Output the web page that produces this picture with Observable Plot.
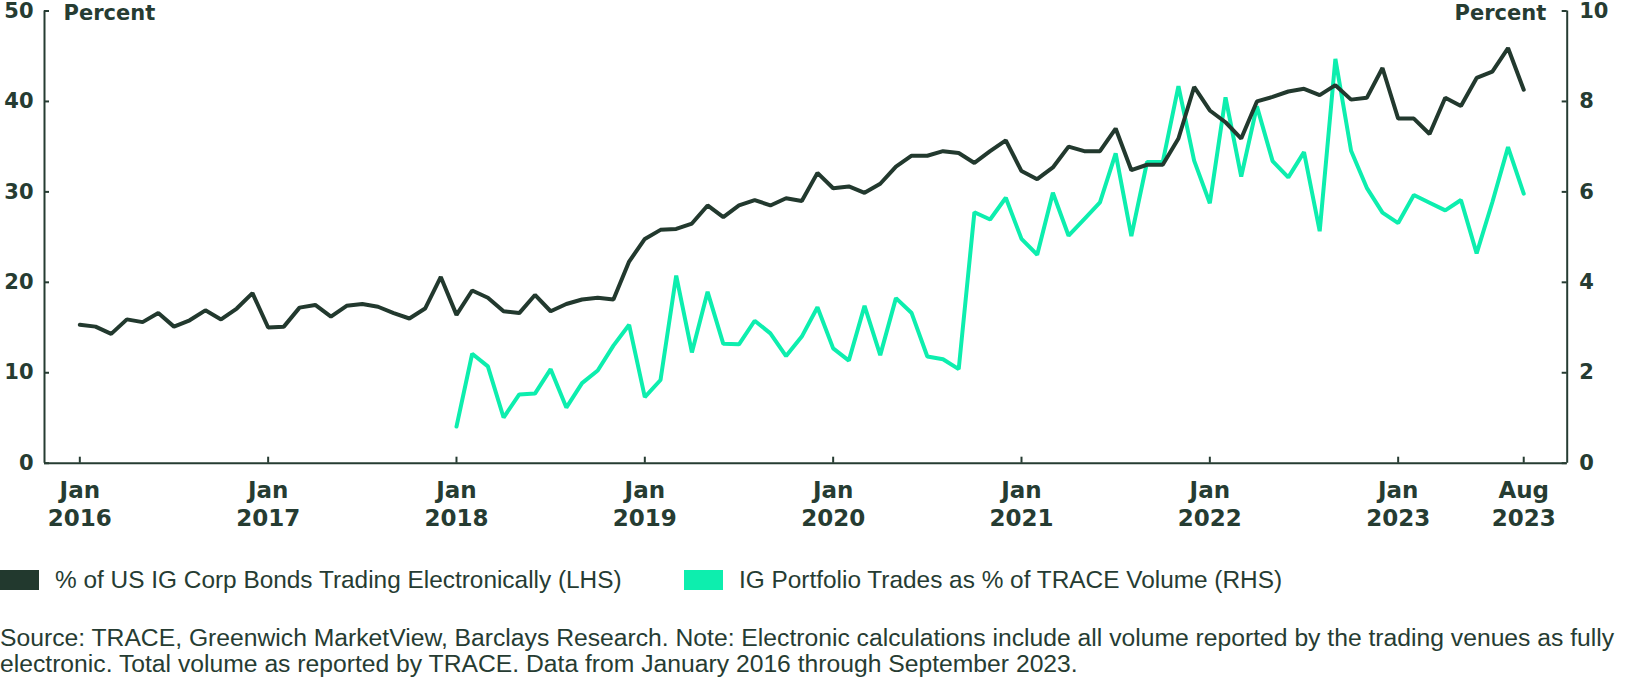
<!DOCTYPE html>
<html>
<head>
<meta charset="utf-8">
<script src="https://cdn.jsdelivr.net/npm/d3@7"></script>
<script src="https://cdn.jsdelivr.net/npm/@observablehq/plot@0.6"></script>
<style>
  html, body { margin: 0; padding: 0; background: #fff; }
  body { width: 1626px; height: 684px; overflow: hidden; position: relative;
         font-family: "Liberation Sans", Arial, sans-serif; color: #263c32; }
  #chart { position: absolute; left: 0; top: 0; }
  .legend { position: absolute; top: 570px; left: 0; height: 20px; line-height: 20px; font-size: 24.4px; white-space: nowrap; }
  .legend .sw { position: absolute; top: 0; width: 39px; height: 20px; }
  .legend .lbl { position: absolute; top: 0; }
  .caption { position: absolute; left: 0; top: 625px; font-size: 24.7px; line-height: 26px; white-space: nowrap; }
</style>
</head>
<body>
<div id="chart"></div>
<div class="legend" id="legend"></div>
<div class="caption" id="caption"></div>
<script>
// ---- data ----
const firstMonth = "2016-01";
// % of US IG Corp Bonds Trading Electronically (LHS), monthly Jan 2016 - Sep 2023
const electronicPct = [
  15.3, 15.1, 14.3, 15.9, 15.6, 16.6, 15.1, 15.8, 16.9, 15.9, 17.1, 18.8,
  15.0, 15.1, 17.2, 17.5, 16.2, 17.4, 17.6, 17.3, 16.6, 16.0, 17.1, 20.6,
  16.4, 19.1, 18.3, 16.8, 16.6, 18.6, 16.8, 17.6, 18.1, 18.3, 18.1, 22.3,
  24.8, 25.8, 25.9, 26.5, 28.5, 27.2, 28.5, 29.1, 28.5, 29.3, 29.0, 32.1,
  30.4, 30.6, 29.9, 30.9, 32.8, 34.0, 34.0, 34.5, 34.3, 33.2, 34.5, 35.7,
  32.3, 31.4, 32.7, 35.0, 34.5, 34.5, 37.0, 32.4, 33.0, 33.0, 35.9, 41.6,
  39.0, 37.7, 35.9, 40.0, 40.5, 41.1, 41.4, 40.7, 41.8, 40.2, 40.4, 43.7,
  38.1, 38.1, 36.4, 40.4, 39.5, 42.6, 43.3, 45.9, 41.3
];
// IG Portfolio Trades as % of TRACE Volume (RHS), monthly Jan 2018 - Sep 2023
const portfolioStart = "2018-01";
const portfolioPct = [
  0.81, 2.42, 2.14, 1.01, 1.52, 1.54, 2.08, 1.23, 1.77, 2.05, 2.60, 3.06,
  1.46, 1.84, 4.15, 2.45, 3.79, 2.64, 2.63, 3.15, 2.87, 2.37, 2.80, 3.45,
  2.54, 2.27, 3.48, 2.39, 3.65, 3.32, 2.36, 2.30, 2.08, 5.55, 5.39, 5.87,
  4.96, 4.61, 5.98, 5.03, 5.40, 5.77, 6.85, 5.02, 6.66, 6.66, 8.34, 6.69,
  5.75, 8.09, 6.34, 7.89, 6.68, 6.32, 6.88, 5.13, 8.94, 6.91, 6.09, 5.54,
  5.31, 5.93, 5.76, 5.59, 5.82, 4.64, 5.77, 6.99, 5.96
];
const xTickMonths = ["2016-01", "2017-01", "2018-01", "2019-01", "2020-01", "2021-01", "2022-01", "2023-01", "2023-09"];
const xTickLabels = ["Jan\n2016", "Jan\n2017", "Jan\n2018", "Jan\n2019", "Jan\n2020", "Jan\n2021", "Jan\n2022", "Jan\n2023", "Aug\n2023"];
const leftTicks = [0, 10, 20, 30, 40, 50];
const rightTicks = [0, 2, 4, 6, 8, 10];
const seriesNames = ["% of US IG Corp Bonds Trading Electronically (LHS)", "IG Portfolio Trades as % of TRACE Volume (RHS)"];
const captionLines = [
  "Source: TRACE, Greenwich MarketView, Barclays Research. Note: Electronic calculations include all volume reported by the trading venues as fully",
  "electronic. Total volume as reported by TRACE. Data from January 2016 through September 2023."
];
const axisLabel = "Percent";

// ---- helpers ----
const monthIndex = s => { const [y, m] = s.split("-").map(Number); const [y0, m0] = firstMonth.split("-").map(Number); return (y - y0) * 12 + (m - m0); };
const darkColor = "#22392e";
const greenColor = "#0deeae";
const textColor = "#263c32";
const rhsFactor = 50 / 10;

const electronic = electronicPct.map((v, i) => ({i, v}));
const p0 = monthIndex(portfolioStart);
const portfolio = portfolioPct.map((v, i) => ({i: p0 + i, v: v * rhsFactor}));
const tickIdx = xTickMonths.map(monthIndex);
const labelByIdx = new Map(tickIdx.map((d, k) => [d, xTickLabels[k]]));

// ---- layout ----
const W = 1626, H = 540;
const mL = 44, mR = 59.3, mT = 10.5, mB = 77.3;
const plotW = W - mL - mR, plotH = H - mT - mB;
const xMin = -2.25, xMax = 94.77;
const boldFont = "'DejaVu Sans', sans-serif";

const chart = Plot.plot({
  width: W, height: H,
  marginLeft: mL, marginRight: mR, marginTop: mT, marginBottom: mB,
  x: {type: "linear", domain: [xMin, xMax], axis: null},
  y: {domain: [0, 50], axis: null},
  style: {fontFamily: boldFont, color: textColor, background: "white", overflow: "visible"},
  marks: [
    // frame lines (left, right, bottom)
    Plot.ruleX([xMin], {stroke: textColor, strokeWidth: 2}),
    Plot.ruleX([xMax], {stroke: textColor, strokeWidth: 2}),
    Plot.ruleY([0], {stroke: textColor, strokeWidth: 2}),
    // inward ticks
    Plot.tickY(leftTicks, {y: d => d, stroke: textColor, strokeWidth: 2, insetRight: plotW - 5}),
    Plot.tickY(rightTicks, {y: d => d * rhsFactor, stroke: textColor, strokeWidth: 2, insetLeft: plotW - 5}),
    Plot.tickX(tickIdx, {x: d => d, stroke: textColor, strokeWidth: 2, insetTop: plotH - 6}),
    // tick labels
    Plot.axisY({ticks: leftTicks, anchor: "left", tickSize: 0, tickPadding: 11, fontSize: 21, fontWeight: 700, label: null, tickFormat: d => d}),
    Plot.axisY({ticks: rightTicks.map(d => d * rhsFactor), anchor: "right", tickSize: 0, tickPadding: 12, fontSize: 21, fontWeight: 700, label: null, tickFormat: d => d / rhsFactor}),
    Plot.axisX({ticks: tickIdx, anchor: "bottom", tickSize: 0, tickPadding: 14, fontSize: 23, fontWeight: 700, lineHeight: 1.25, label: null, tickFormat: d => labelByIdx.get(d)}),
    // axis unit labels
    Plot.text([axisLabel], {frameAnchor: "top-left", textAnchor: "start", lineAnchor: "top", dx: 19, dy: -6, fontSize: 21, fontWeight: 700, fill: textColor}),
    Plot.text([axisLabel], {frameAnchor: "top-right", textAnchor: "end", lineAnchor: "top", dx: -21, dy: -6, fontSize: 21, fontWeight: 700, fill: textColor}),
    // series
    Plot.line(portfolio, {x: "i", y: "v", stroke: greenColor, strokeWidth: 4, strokeLinejoin: "miter", strokeLinecap: "round"}),
    Plot.line(electronic, {x: "i", y: "v", stroke: darkColor, strokeWidth: 4, strokeLinejoin: "miter", strokeLinecap: "round"})
  ]
});
document.getElementById("chart").appendChild(chart);

// legend
const legend = document.getElementById("legend");
[[0, darkColor, seriesNames[0]], [684, greenColor, seriesNames[1]]].forEach(([x, c, t]) => {
  const sw = document.createElement("div"); sw.className = "sw"; sw.style.left = x + "px"; sw.style.background = c;
  const lb = document.createElement("div"); lb.className = "lbl"; lb.style.left = (x + 55) + "px"; lb.textContent = t;
  legend.appendChild(sw); legend.appendChild(lb);
});
// caption
const cap = document.getElementById("caption");
captionLines.forEach(l => { const d = document.createElement("div"); d.textContent = l; cap.appendChild(d); });
</script>
</body>
</html>
